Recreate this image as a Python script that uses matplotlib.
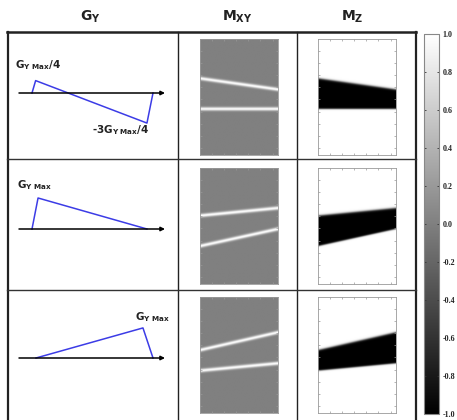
import numpy as np
import matplotlib
matplotlib.use("Agg")
import matplotlib.pyplot as plt

plt.rcParams['mathtext.fontset'] = 'dejavusans'

# figure size in pixels
W, H = 457, 420

# column headers
headers = [r'$\mathbf{G_Y}$', r'$\mathbf{M_{XY}}$', r'$\mathbf{M_Z}$']

# gradient waveforms (time, amplitude in units of G_Y,max)
gy_t = [[0.0, 0.03, 0.95, 1.0], [0.0, 0.05, 0.95], [0.033, 0.917, 1.0]]
gy_amp = [[0.0, 0.40, -0.97, 0.0], [0.0, 1.0, 0.0], [0.0, 0.97, 0.0]]

# waveform annotations: (text, t, amplitude)
gy_labels = [
    [(r'$\mathbf{G_{Y\ Max}}$/4', -0.14, 0.90), (r'-3$\mathbf{G_{Y\ Max}}$/4', 0.50, -1.19)],
    [(r'$\mathbf{G_{Y\ Max}}$', -0.124, 1.40)],
    [(r'$\mathbf{G_{Y\ Max}}$', 0.85, 1.31)],
]

# band edges, as fraction of image height from top (left, right)
upper_left = [0.339, 0.415, 0.457]
upper_right = [0.434, 0.350, 0.304]
lower_left = [0.603, 0.676, 0.635]
lower_right = [0.603, 0.530, 0.572]

# colorbar ticks
cbar_ticks = [-1.0, -0.8, -0.6, -0.4, -0.2, 0.0, 0.2, 0.4, 0.6, 0.8, 1.0]
cbar_labels = ['-1.0', '-0.8', '-0.6', '-0.4', '-0.2', '0.0', '0.2', '0.4', '0.6', '0.8', '1.0']

# layout (pixels)
row_top = [32, 159, 290]
row_bot = [159, 290, 420]
img_top = [39, 168, 297]
img_h = 116
axis_y = [93, 229, 358]
T0_PX, T_SCALE, A_SCALE = 32, 121, 31
IMG_W, IMG_H = 6.45, 9.6


def px_axes(fig, x0, y0, x1, y1):
    return fig.add_axes([x0 / W, 1 - y1 / H, (x1 - x0) / W, (y1 - y0) / H])


def edge(left, right, x):
    return (left + (right - left) * x / IMG_W) * IMG_H


fig = plt.figure(figsize=(W / 100, H / 100), dpi=100)

# table frame + headers
ov = px_axes(fig, 0, 0, W, H)
ov.set_xlim(0, W)
ov.set_ylim(H, 0)
ov.axis('off')
ov.plot([7, 416], [32, 32], color='#222222', lw=1.8)
ov.plot([7.5, 7.5], [32, 420], color='#222222', lw=1.6)
ov.plot([415.5, 415.5], [32, 420], color='#222222', lw=1.6)
for xc in [178, 297]:
    ov.plot([xc, xc], [32, 420], color='#222222', lw=1.0)
for yr in [159, 290]:
    ov.plot([7, 416], [yr, yr], color='#333333', lw=1.0)
for xh, txt in zip([90, 237, 352], headers):
    ov.text(xh, 17, txt, ha='center', va='center', fontsize=10, color='#222222')

# grid for images
xs = np.linspace(0, IMG_W, 160)
ys = np.linspace(0, IMG_H, 240)
X, Y = np.meshgrid(xs, ys)
px = IMG_H / img_h  # one pixel in image units

for r in range(3):
    # gradient panel
    ax = px_axes(fig, 9, row_top[r] + 1, 177, row_bot[r] - 1)
    ax.set_xlim((9 - T0_PX) / T_SCALE, (177 - T0_PX) / T_SCALE)
    ax.set_ylim((axis_y[r] - (row_bot[r] - 1)) / A_SCALE, (axis_y[r] - (row_top[r] + 1)) / A_SCALE)
    ax.axis('off')
    ax.annotate('', xy=((165 - T0_PX) / T_SCALE, 0), xytext=((19 - T0_PX) / T_SCALE, 0),
                arrowprops=dict(arrowstyle='-|>', lw=1.1, color='black', mutation_scale=6,
                                shrinkA=0, shrinkB=0))
    ax.plot(gy_t[r], gy_amp[r], color='#3c3ce6', lw=1.1)
    for txt, tx, ta in gy_labels[r]:
        ax.text(tx, ta, txt, ha='left', va='center', fontsize=7.5, fontweight='bold',
                color='#222222')

    ye_up = edge(upper_left[r], upper_right[r], X)
    ye_lo = edge(lower_left[r], lower_right[r], X)

    # M_XY: bright lines on mid gray
    mxy = np.exp(-((Y - ye_up) / (1.8 * px)) ** 2) + np.exp(-((Y - ye_lo) / (1.8 * px)) ** 2)
    # M_Z: white with black band
    band = 0.5 * (np.tanh((Y - ye_up) / (1.2 * px)) - np.tanh((Y - ye_lo) / (0.8 * px)))
    mz = 1 - 2 * band

    for x0, field in [(200, mxy), (318, mz)]:
        ia = px_axes(fig, x0, img_top[r], x0 + 78, img_top[r] + img_h)
        im = ia.imshow(field, cmap='gray', vmin=-1, vmax=1, aspect='auto',
                       extent=[0, IMG_W, IMG_H, 0], interpolation='bilinear')
        ia.set_xticks(np.arange(1, IMG_W, 1.0))
        ia.set_yticks(np.arange(1, IMG_H, 1.0))
        ia.tick_params(direction='in', length=1.5, width=0.5, color='#999999',
                       top=True, right=True, labelleft=False, labelbottom=False)
        for s in ia.spines.values():
            s.set_color('#999999')
            s.set_linewidth(0.6)

# colorbar
cax = px_axes(fig, 424, 34, 439, 414)
cb = fig.colorbar(im, cax=cax, ticks=cbar_ticks)
cb.ax.set_yticklabels(cbar_labels)
cb.outline.set_edgecolor('#888888')
cb.outline.set_linewidth(0.8)
cax.tick_params(direction='in', length=1.5, width=0.6, color='#333333', left=True, right=True,
                labelsize=5.8, pad=2.5, labelcolor='#222222')
for lab in cax.get_yticklabels():
    lab.set_fontweight('bold')
    lab.set_family('Liberation Serif')

fig.savefig('out.png', dpi=100)
